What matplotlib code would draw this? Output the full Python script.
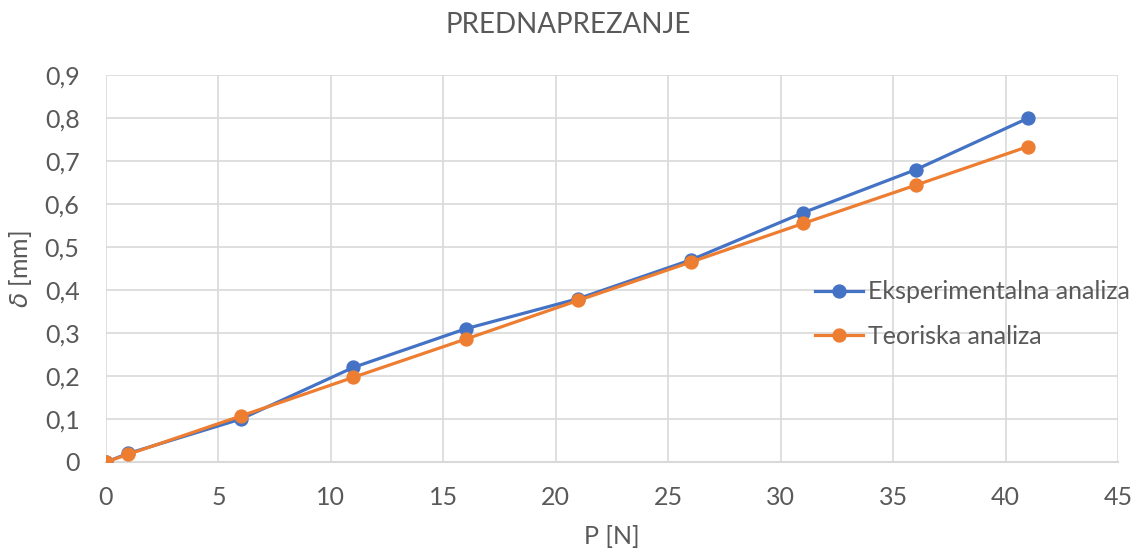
import matplotlib.pyplot as plt

P = [0, 1, 6, 11, 16, 21, 26, 31, 36, 41]
eksperimentalna = [0, 0.02, 0.10, 0.22, 0.31, 0.38, 0.47, 0.58, 0.68, 0.80]
teoriska = [0, 0.018, 0.107, 0.197, 0.286, 0.376, 0.465, 0.555, 0.644, 0.734]
x_ticks = [0, 5, 10, 15, 20, 25, 30, 35, 40, 45]
y_ticks = [0, 0.1, 0.2, 0.3, 0.4, 0.5, 0.6, 0.7, 0.8, 0.9]

plt.rcParams["font.family"] = ["Lato", "DejaVu Sans"]
txt = "#595959"

fig = plt.figure(figsize=(11.47, 5.53), dpi=100)
ax = fig.add_axes([0.0924, 0.1646, 0.8823, 0.6994])

ax.plot(P, eksperimentalna, color="#4472C4", lw=2.3, marker="o", ms=9.3,
        label="Eksperimentalna analiza", zorder=3)
ax.plot(P, teoriska, color="#ED7D31", lw=2.3, marker="o", ms=9.3,
        label="Teoriska analiza", zorder=4)

ax.set_xlim(0, 45)
ax.set_ylim(0, 0.9)
ax.set_xticks(x_ticks)
ax.set_yticks(y_ticks)
ax.set_yticklabels([("%g" % v).replace(".", ",") for v in y_ticks])
ax.grid(True, color="#d9d9d9", lw=1.2)
ax.set_axisbelow(True)
for s in ["top", "right", "left"]:
    ax.spines[s].set_visible(False)
ax.spines["bottom"].set_color("#d9d9d9")
ax.spines["bottom"].set_linewidth(1.5)
ax.tick_params(axis="x", length=0, labelsize=18, colors=txt, pad=17)
ax.tick_params(axis="y", length=0, labelsize=18, colors=txt, pad=19)

ax.set_xlabel("P [N]", fontsize=18, color=txt, labelpad=12)
ax.set_ylabel(r"$\delta$ [mm]", fontsize=18, color=txt, labelpad=8)
fig.text(0.495, 1 - 25 / 553, "PREDNAPREZANJE", fontsize=20, color=txt,
         ha="center", va="center")

leg = fig.legend(loc="center left", bbox_to_anchor=(0.702, 0.432), frameon=False,
                 fontsize=18, labelcolor=txt, handlelength=1.9, handletextpad=0.2,
                 labelspacing=0.85, borderaxespad=0)

fig.savefig("out.png", dpi=100)
